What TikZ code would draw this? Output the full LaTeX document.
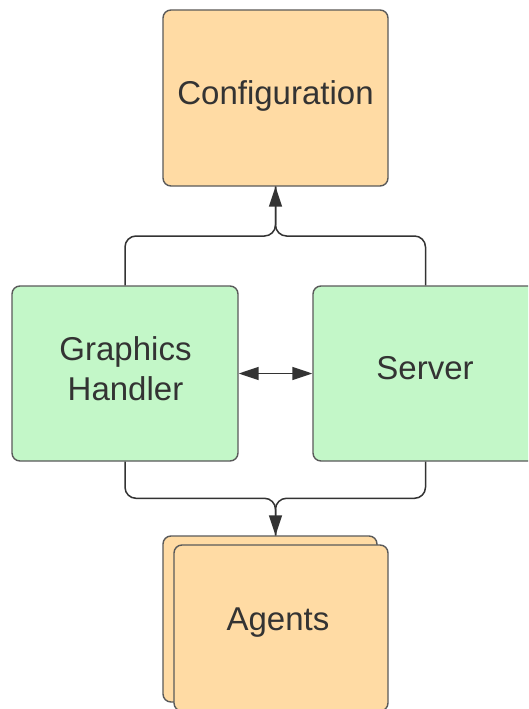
\documentclass[tikz,border=0pt]{standalone}
\usepackage{fontspec}
\setmainfont{Liberation Sans}
\usetikzlibrary{arrows.meta}
\definecolor{boxorange}{HTML}{FFDBA4}
\definecolor{boxgreen}{HTML}{C3F7C8}
\definecolor{boxline}{HTML}{5A5A5A}
\definecolor{txt}{HTML}{333333}
\tikzset{
  box/.style={draw=boxline, line width=1.4pt, rounded corners=8pt, inner sep=0pt, font=\fontsize{33}{40}\selectfont, text=txt, align=center},
  orangebox/.style={box, fill=boxorange},
  greenbox/.style={box, fill=boxgreen},
  conn/.style={draw=txt, line width=1.5pt, rounded corners=11pt},
  tip/.style={-{Triangle[length=20pt,width=13pt]}},
  dtip/.style={{Triangle[length=20pt,width=13pt]}-{Triangle[length=20pt,width=13pt]}}
}
\begin{document}
\begin{tikzpicture}[x=1pt,y=-1pt]
\clip (0,0) rectangle (528,709);
\fill[white] (0,0) rectangle (528,709);
\node[orangebox, minimum width=225pt, minimum height=176pt] (cfg) at (275.5,98) {};
\node[txt, font=\fontsize{33}{40}\selectfont, anchor=base] (cfgt) at (275.5,104) {Configuration};
\node[greenbox, minimum width=226pt, minimum height=175pt] (gh) at (125,373.5) {};
\node[txt, font=\fontsize{33}{40}\selectfont, align=center, anchor=base] (ght) at (125.5,400) {Graphics\\Handler};
\node[greenbox, minimum width=225pt, minimum height=175pt] (srv) at (425.5,373.5) {};
\node[txt, font=\fontsize{33}{40}\selectfont, anchor=base] (srvt) at (425,379.3) {Server};
\node[orangebox, minimum width=214pt, minimum height=166pt] (agb) at (270,619) {};
\node[orangebox, minimum width=214pt, minimum height=166pt] (agf) at (281,628) {};
\node[txt, font=\fontsize{33}{40}\selectfont, anchor=base] (agt) at (278,630) {Agents};
\coordinate (jt) at (275.5,236);
\coordinate (jb) at (275.5,498.3);
\draw[conn] (gh.north) |- (jt) -- (cfg.south);
\draw[conn] (srv.north) |- (jt) -- (cfg.south);
\draw[conn, tip] (275.5,226) -- (cfg.south);
\draw[conn] (gh.south) |- (jb) -- (agb.north -| jb);
\draw[conn] (srv.south) |- (jb) -- (agb.north -| jb);
\draw[conn, tip] (275.5,508) -- (agb.north -| jb);
\draw[conn, dtip] (gh.east) -- (srv.west);
\end{tikzpicture}
\end{document}
